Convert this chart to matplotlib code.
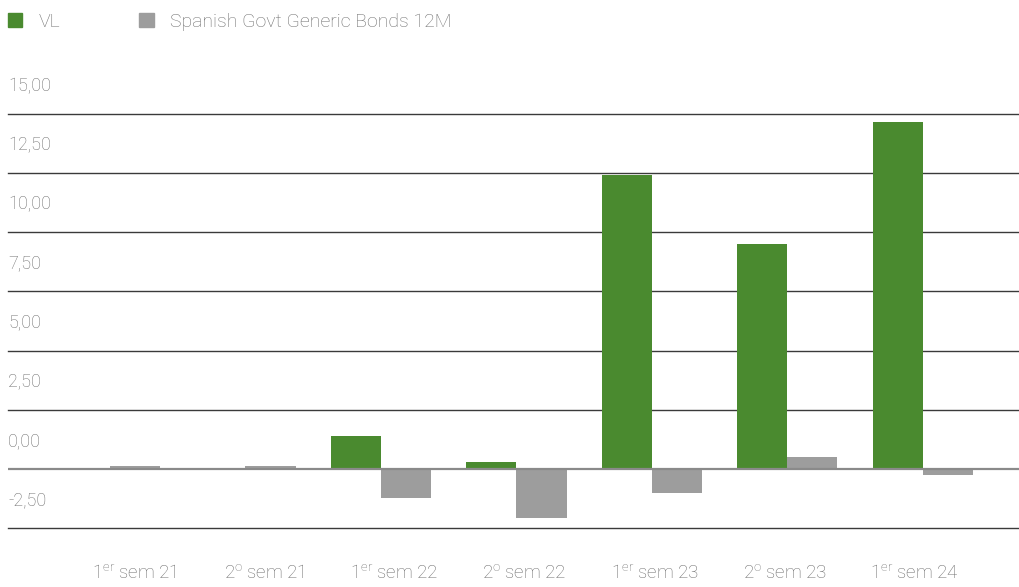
import matplotlib.pyplot as plt
import numpy as np
from matplotlib.patches import Patch
from matplotlib.transforms import ScaledTranslation

plt.rcParams['font.family'] = ['Roboto', 'DejaVu Sans']
plt.rcParams['mathtext.default'] = 'regular'

# data
periods = ["1$^{er}$ sem 21", "2$^{o}$ sem 21", "1$^{er}$ sem 22", "2$^{o}$ sem 22",
           "1$^{er}$ sem 23", "2$^{o}$ sem 23", "1$^{er}$ sem 24"]
vl = [0.0, 0.0, 1.39, 0.30, 12.42, 9.51, 14.66]
bonds = [0.13, 0.13, -1.23, -2.07, -1.01, 0.51, -0.25]
yticks = [-2.5, 0, 2.5, 5, 7.5, 10, 12.5, 15]

green = "#4a8a2f"
grey = "#9d9d9d"
text_col = "#6e6e6e"

fig = plt.figure(figsize=(10.19, 5.87), dpi=100)
ax = fig.add_axes([8 / 1019, 59 / 587, 1011 / 1019, 414 / 587])

x = np.arange(len(periods))
w = 0.37
ax.bar(x - w / 2, vl, w, color=green, zorder=3)
ax.bar(x + w / 2, bonds, w, color=grey, zorder=3)

for v in yticks:
    if v == 0:
        ax.axhline(v, color="#8a8a8a", lw=1.6, zorder=4)
    else:
        ax.axhline(v, color="#3a3a3a", lw=1.0, zorder=1, clip_on=False)

ax.set_xlim(-0.753, 6.71)
ax.set_ylim(-2.5, 15)
for s in ax.spines.values():
    s.set_visible(False)

ax.set_yticks(yticks)
ax.set_yticklabels([f"{v:.2f}".replace(".", ",") for v in yticks])
ax.tick_params(axis="y", length=0, pad=0, labelsize=13, labelcolor=text_col)
for lab in ax.get_yticklabels():
    lab.set_horizontalalignment("left")
    lab.set_fontweight("light")
    lab.set_transform(lab.get_transform() + ScaledTranslation(0, 0.30, fig.dpi_scale_trans))

# category labels sit slightly off the bar groups in the original
ax.set_xticks(x + 0.18 - 0.04 * x)
ax.set_xticklabels(periods)
ax.tick_params(axis="x", length=0, pad=26, labelsize=13.5, labelcolor=text_col)
for lab in ax.get_xticklabels():
    lab.set_fontweight("light")

handles = [Patch(color=green), Patch(color=grey)]
leg = fig.legend(handles, ["VL", "Spanish Govt Generic Bonds 12M"], loc="upper left",
                 bbox_to_anchor=(-3 / 1019, 1 - 2 / 587), ncol=2, frameon=False,
                 borderpad=0.55, borderaxespad=0.0, handlelength=0.75, handleheight=0.75,
                 handletextpad=0.85, columnspacing=4.05, fontsize=14, labelcolor=text_col)
for t in leg.get_texts():
    t.set_fontweight("light")

fig.savefig("out.png", dpi=100)
